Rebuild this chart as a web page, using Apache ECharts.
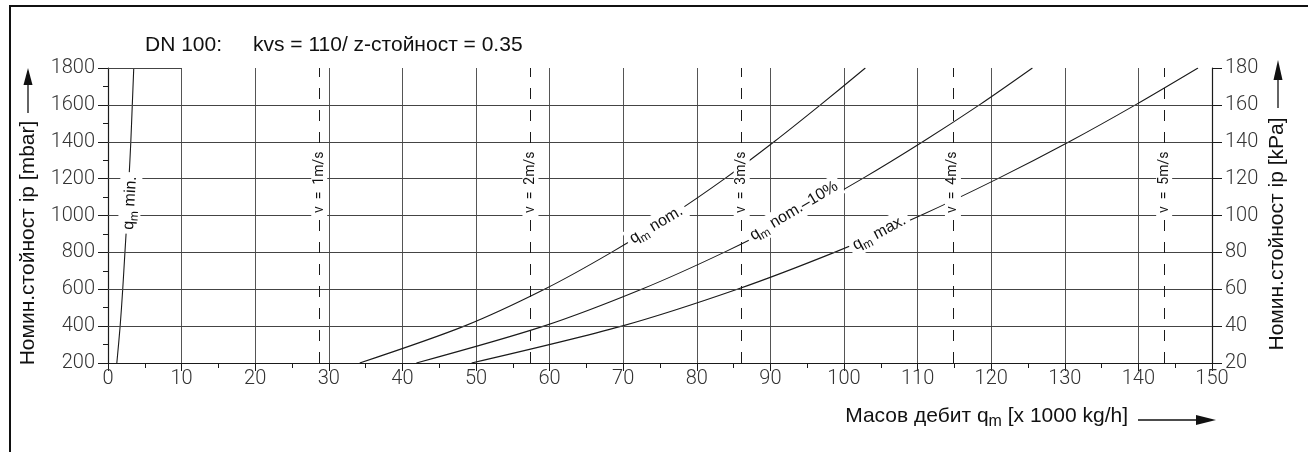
<!DOCTYPE html>
<html><head><meta charset="utf-8">
<script src="https://cdn.jsdelivr.net/npm/echarts@6/dist/echarts.min.js"></script>
<style>html,body{margin:0;padding:0;background:#fff}#c{width:1308px;height:452px}</style>
</head><body><div id="c"></div>
<script>
// ---- data ----
const pressureLevels = [200, 400, 600, 800, 1000, 1200, 1400, 1600, 1800]; // mbar
const qmMin   = [1.2, 1.65, 2.0, 2.3, 2.6, 2.85, 3.1, 3.3, 3.5];
const qmNom   = [34.2, 48.4, 59.3, 68.4, 76.5, 83.8, 90.5, 96.8, 102.9];
const qmNom10 = [41.9, 59.2, 72.5, 83.7, 93.6, 102.5, 110.7, 118.4, 125.6];
const qmMax   = [49.4, 69.8, 85.5, 98.7, 110.4, 120.9, 130.6, 139.6, 148.1];
const velocityQ = [28.7, 57.4, 86.1, 114.8, 143.5];
const velocityLabels = ['v  =  1m/s', 'v  =  2m/s', 'v  =  3m/s', 'v  =  4m/s', 'v  =  5m/s'];
const velocityLabelP = 1180;
const curveLabels = [
  {q: 3.0,   p: 1068, text: '{q|q}{m|m}{t| min.}',     rot: 87},
  {q: 74.5,  p: 949,  text: '{q|q}{m|m}{t| nom.}',     rot: 31},
  {q: 93.2,  p: 1025, text: '{q|q}{m|m}{t| nom.–10%}', rot: 31},
  {q: 104.8, p: 906,  text: '{q|q}{m|m}{t| max.}',     rot: 28}
];
const gridRowsFull = [400, 600, 800, 1000, 1200, 1400, 1600];
const topRowSpan = [0, 10];
const xMin = 0, xMax = 150, xStep = 10;
const yMin = 200, yMax = 1800, yStep = 200;
const kMin = 20, kMax = 180, kStep = 20;

const tickFont = {fontFamily: 'Roboto', fontWeight: 300, fontSize: 20, color: '#333', formatter: v => String(v)};
const black = '#1a1a1a';
const nameFont = '21px "Liberation Sans"';

function pairs(qs) { return qs.map((q, i) => [q, pressureLevels[i]]); }
function curve(qs) {
  return {type: 'line', data: pairs(qs), smooth: 0.3, showSymbol: false, silent: true,
    lineStyle: {color: black, width: 1.1}, z: 3};
}

const chart = echarts.init(document.getElementById('c'), null, {renderer: 'canvas'});
chart.setOption({
  animation: false,
  backgroundColor: '#fff',
  grid: {left: 108, right: 96, top: 68, bottom: 89},
  xAxis: {
    type: 'value', min: xMin, max: xMax, interval: xStep,
    axisLine: {show: true, lineStyle: {color: black, width: 1.2}},
    axisTick: {show: true, length: 8, lineStyle: {color: black}},
    minorTick: {show: true, splitNumber: 2, length: 5, lineStyle: {color: black}},
    axisLabel: Object.assign({margin: 6}, tickFont),
    splitLine: {show: true, lineStyle: {color: '#555', width: 1}}
  },
  yAxis: [{
    type: 'value', min: yMin, max: yMax, interval: yStep,
    axisLine: {show: true, lineStyle: {color: black, width: 1.2}},
    axisTick: {show: true, length: 10, lineStyle: {color: black}},
    minorTick: {show: true, splitNumber: 2, length: 5, lineStyle: {color: black}},
    axisLabel: Object.assign({margin: 13}, tickFont),
    splitLine: {show: false}
  }, {
    type: 'value', min: kMin, max: kMax, interval: kStep, position: 'right',
    axisLine: {show: true, lineStyle: {color: black, width: 1.2}},
    axisTick: {show: true, length: 10, lineStyle: {color: black}},
    axisLabel: Object.assign({margin: 13}, tickFont),
    splitLine: {show: false}
  }],
  series: [
    {
      type: 'line', data: [], silent: true,
      markLine: {
        silent: true, symbol: 'none', animation: false,
        label: {show: false},
        lineStyle: {color: '#444', width: 1, type: 'solid'},
        data: gridRowsFull.map(v => ({yAxis: v})).concat([
          [{coord: [topRowSpan[0], yMax]}, {coord: [topRowSpan[1], yMax]}]
        ])
      }
    },
    {
      type: 'line', data: [], silent: true,
      markLine: {
        silent: true, symbol: 'none', animation: false,
        label: {show: false},
        lineStyle: {color: black, width: 1, type: [11, 11]},
        data: velocityQ.map(v => ({xAxis: v}))
      }
    },
    curve(qmMin), curve(qmNom), curve(qmNom10), curve(qmMax),
    {
      type: 'scatter', symbolSize: 1, silent: true, z: 10, zlevel: 1,
      itemStyle: {opacity: 0},
      data: velocityQ.map((q, i) => ({
        value: [q, velocityLabelP],
        label: {show: true, position: 'inside', rotate: 90, formatter: velocityLabels[i],
          fontFamily: 'Roboto', fontWeight: 400, fontSize: 14, color: '#111', opacity: 1,
          backgroundColor: '#fff', padding: [1, 6]}
      }))
    },
    {
      type: 'scatter', symbolSize: 1, silent: true, z: 10, zlevel: 1,
      itemStyle: {opacity: 0},
      data: curveLabels.map(c => ({
        value: [c.q, c.p],
        label: {show: true, position: 'inside', rotate: c.rot, formatter: c.text, opacity: 1,
          backgroundColor: '#fff', padding: [0, 4],
          rich: {
            q: {fontFamily: 'Liberation Sans', fontSize: 16, color: '#111', lineHeight: 22, verticalAlign: 'middle'},
            m: {fontFamily: 'Liberation Sans', fontSize: 12, color: '#111', lineHeight: 22, verticalAlign: 'bottom'},
            t: {fontFamily: 'Liberation Sans', fontSize: 16, color: '#111', lineHeight: 22, verticalAlign: 'middle'}
          }}
      }))
    }
  ],
  graphic: [
    {type: 'rect', shape: {x: 10, y: 6, width: 1400, height: 600}, style: {fill: 'none', stroke: '#111', lineWidth: 2}, silent: true},
    {type: 'text', x: 145, y: 45, style: {text: 'DN 100:', font: nameFont, fill: '#111', textVerticalAlign: 'middle'}},
    {type: 'text', x: 253, y: 45, style: {text: 'kvs = 110/ z-стойност = 0.35', font: nameFont, fill: '#111', textVerticalAlign: 'middle'}},
    // left axis name + arrow
    {type: 'text', x: 28, y: 243, rotation: Math.PI / 2,
      style: {text: 'Номин.стойност ip [mbar]', font: nameFont, fill: '#111', textAlign: 'center', textVerticalAlign: 'middle'}},
    {type: 'line', shape: {x1: 28, y1: 82, x2: 28, y2: 113}, style: {stroke: '#111', lineWidth: 1.3}},
    {type: 'polygon', shape: {points: [[28, 68], [23.5, 85], [32.5, 85]]}, style: {fill: '#111'}},
    // right axis name + arrow
    {type: 'text', x: 1277, y: 234, rotation: Math.PI / 2,
      style: {text: 'Номин.стойност ip [kPa]', font: nameFont, fill: '#111', textAlign: 'center', textVerticalAlign: 'middle'}},
    {type: 'line', shape: {x1: 1278, y1: 78, x2: 1278, y2: 108}, style: {stroke: '#111', lineWidth: 1.3}},
    {type: 'polygon', shape: {points: [[1278, 60], [1273.5, 80], [1282.5, 80]]}, style: {fill: '#111'}},
    // x axis name + arrow
    {type: 'text', x: 1128, y: 416,
      style: {text: '{a|Масов дебит q}{m|m}{a| [x 1000 kg/h]}', textAlign: 'right', textVerticalAlign: 'middle',
        rich: {
          a: {font: nameFont, fill: '#111', lineHeight: 28, verticalAlign: 'middle'},
          m: {font: '16px "Liberation Sans"', fill: '#111', lineHeight: 28, verticalAlign: 'bottom'}
        }}},
    {type: 'line', shape: {x1: 1138, y1: 420, x2: 1200, y2: 420}, style: {stroke: '#111', lineWidth: 1.3}},
    {type: 'polygon', shape: {points: [[1196, 415], [1196, 425], [1216, 420]]}, style: {fill: '#111'}}
  ]
});
</script></body></html>
